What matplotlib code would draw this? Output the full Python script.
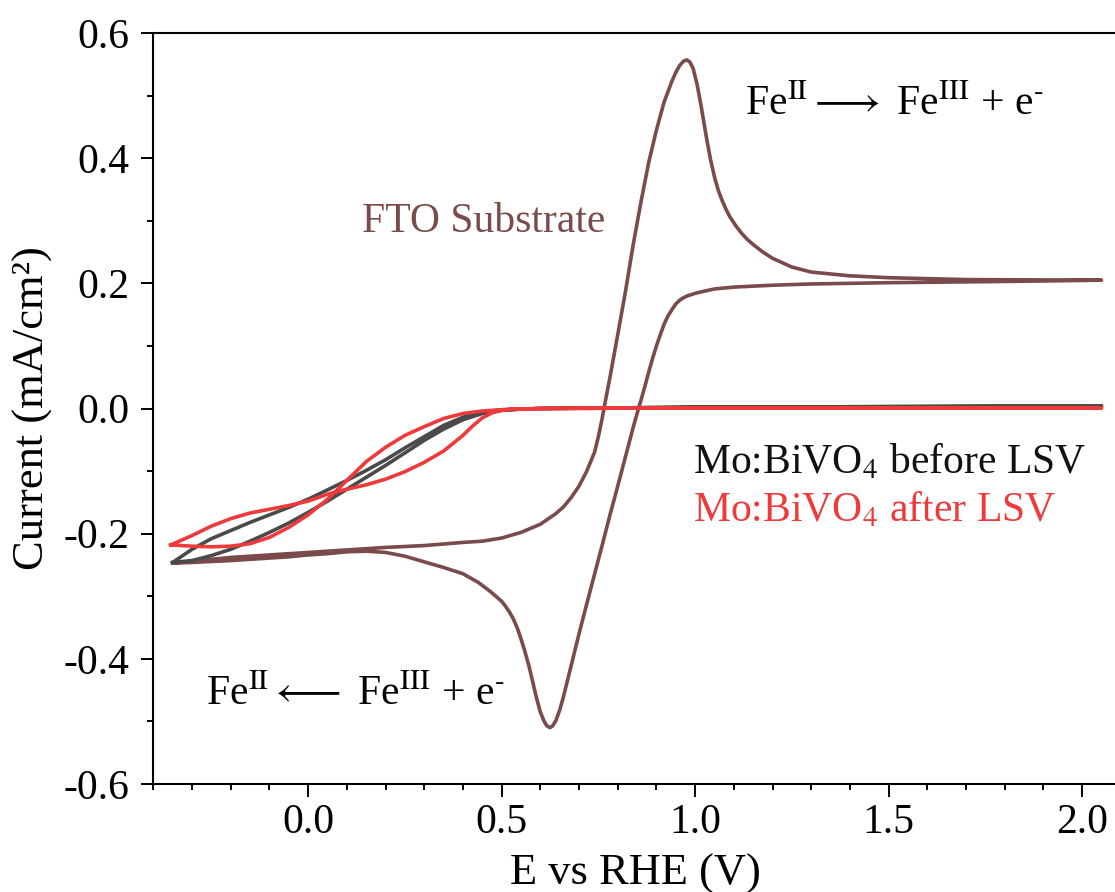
import numpy as np
import matplotlib
matplotlib.use('Agg')
from matplotlib import pyplot as plt
from matplotlib.ticker import MultipleLocator, FormatStrFormatter

plt.rcParams['font.family'] = ['Liberation Serif', 'DejaVu Serif']
plt.rcParams['mathtext.fontset'] = 'stix'
plt.rcParams['axes.unicode_minus'] = False

# FTO substrate CV, forward (anodic) sweep
fto_fwd_E = [-0.35, -0.30, -0.20, -0.10, 0.00, 0.10, 0.20, 0.30, 0.40, 0.45, 0.50, 0.55,
             0.60, 0.64, 0.66, 0.68, 0.70, 0.72, 0.74, 0.75, 0.76, 0.77, 0.78, 0.80, 0.82,
             0.84, 0.86, 0.88, 0.90, 0.92, 0.94, 0.95, 0.96, 0.97, 0.978, 0.986, 0.995,
             1.005, 1.015, 1.03, 1.04, 1.05, 1.06, 1.07, 1.08, 1.09, 1.105, 1.12, 1.135,
             1.15, 1.175, 1.20, 1.25, 1.30, 1.40, 1.50, 1.70, 2.05]
fto_fwd_I = [-0.247, -0.244, -0.238, -0.234, -0.230, -0.226, -0.222, -0.219, -0.214, -0.212,
             -0.207, -0.198, -0.185, -0.168, -0.157, -0.142, -0.124, -0.100, -0.070, -0.045,
             -0.015, 0.018, 0.050, 0.118, 0.187, 0.262, 0.330, 0.393, 0.445, 0.490, 0.523,
             0.537, 0.548, 0.555, 0.557, 0.554, 0.543, 0.518, 0.485, 0.430, 0.397, 0.370,
             0.348, 0.332, 0.318, 0.306, 0.292, 0.280, 0.270, 0.262, 0.250, 0.240, 0.226,
             0.218, 0.212, 0.209, 0.206, 0.205]

# FTO substrate CV, reverse (cathodic) sweep
fto_rev_E = [2.05, 1.80, 1.50, 1.30, 1.20, 1.10, 1.05, 1.02, 1.00, 0.98, 0.97, 0.96, 0.95,
             0.94, 0.93, 0.92, 0.91, 0.90, 0.89, 0.88, 0.87, 0.86, 0.85, 0.84, 0.82, 0.80,
             0.78, 0.76, 0.74, 0.72, 0.70, 0.68, 0.67, 0.66, 0.65, 0.64, 0.632, 0.625,
             0.617, 0.61, 0.60, 0.59, 0.58, 0.57, 0.56, 0.55, 0.54, 0.53, 0.52, 0.51, 0.50,
             0.47, 0.44, 0.40, 0.35, 0.30, 0.25, 0.20, 0.15, 0.10, 0.05, 0.00, -0.05, -0.10,
             -0.20, -0.30, -0.35]
fto_rev_I = [0.205, 0.203, 0.201, 0.199, 0.197, 0.194, 0.191, 0.187, 0.184, 0.180, 0.177,
             0.173, 0.167, 0.158, 0.148, 0.135, 0.118, 0.100, 0.080, 0.058, 0.035, 0.013,
             -0.008, -0.030, -0.077, -0.124, -0.170, -0.218, -0.265, -0.312, -0.360, -0.410,
             -0.435, -0.460, -0.482, -0.499, -0.507, -0.510, -0.507, -0.500, -0.485, -0.462,
             -0.436, -0.410, -0.388, -0.368, -0.350, -0.336, -0.325, -0.316, -0.308, -0.292,
             -0.278, -0.264, -0.254, -0.245, -0.236, -0.230, -0.228, -0.229, -0.232, -0.234,
             -0.237, -0.239, -0.243, -0.246, -0.247]

# Mo:BiVO4 before LSV
grey_fwd_E = [-0.35, -0.30, -0.25, -0.20, -0.15, -0.10, -0.05, 0.00, 0.05, 0.10, 0.15, 0.20,
              0.25, 0.30, 0.35, 0.40, 0.45, 0.475, 0.50, 0.55, 0.60, 1.00, 1.50, 2.05]
grey_fwd_I = [-0.246, -0.243, -0.235, -0.225, -0.212, -0.198, -0.183, -0.166, -0.148, -0.129,
              -0.110, -0.091, -0.071, -0.051, -0.033, -0.018, -0.008, -0.005, -0.003, -0.001,
              0.000, 0.002, 0.003, 0.004]
grey_rev_E = [2.05, 1.50, 1.00, 0.60, 0.55, 0.50, 0.475, 0.45, 0.425, 0.40, 0.35, 0.30, 0.25,
              0.20, 0.15, 0.10, 0.05, 0.00, -0.05, -0.10, -0.15, -0.20, -0.25, -0.30, -0.35]
grey_rev_I = [0.004, 0.003, 0.002, 0.000, -0.001, -0.002, -0.004, -0.006, -0.009, -0.014,
              -0.027, -0.045, -0.063, -0.082, -0.099, -0.115, -0.130, -0.145, -0.158, -0.170,
              -0.182, -0.195, -0.208, -0.225, -0.246]

# Mo:BiVO4 after LSV
red_fwd_E = [-0.355, -0.30, -0.25, -0.20, -0.15, -0.10, -0.05, 0.00, 0.05, 0.10, 0.15, 0.20,
             0.25, 0.30, 0.35, 0.40, 0.45, 0.50, 0.55, 0.60, 1.00, 2.05]
red_fwd_I = [-0.218, -0.220, -0.221, -0.220, -0.216, -0.206, -0.190, -0.170, -0.145, -0.115,
             -0.085, -0.062, -0.043, -0.029, -0.016, -0.008, -0.004, -0.002, -0.001, 0.000,
             0.001, 0.001]
red_rev_E = [2.05, 1.00, 0.60, 0.55, 0.525, 0.50, 0.475, 0.45, 0.425, 0.40, 0.35, 0.30, 0.25,
             0.20, 0.15, 0.10, 0.05, 0.00, -0.05, -0.10, -0.15, -0.20, -0.25, -0.30, -0.355]
red_rev_I = [0.001, 0.001, 0.000, -0.001, -0.001, -0.003, -0.007, -0.015, -0.028, -0.043,
             -0.068, -0.086, -0.101, -0.113, -0.122, -0.129, -0.137, -0.148, -0.155, -0.161,
             -0.167, -0.176, -0.188, -0.203, -0.218]

brown = '#7B4B4B'
grey = '#4A4A4A'
red = '#EE3A3A'

fig = plt.figure(figsize=(11.15, 8.92), dpi=100)
ax = fig.add_axes([153.3 / 1115, 108 / 892, (1117 - 153.3) / 1115, 751 / 892])

ax.plot(fto_fwd_E + fto_rev_E, fto_fwd_I + fto_rev_I, color=brown, lw=2.6, solid_joinstyle='round')
ax.plot(grey_fwd_E + grey_rev_E, grey_fwd_I + grey_rev_I, color=grey, lw=2.6, solid_joinstyle='round')
ax.plot(red_fwd_E + red_rev_E, red_fwd_I + red_rev_I, color=red, lw=2.6, solid_joinstyle='round')

ax.set_xlim(-0.4, 2.09)
ax.set_ylim(-0.6, 0.6)
ax.xaxis.set_major_locator(MultipleLocator(0.5))
ax.xaxis.set_minor_locator(MultipleLocator(0.1))
ax.yaxis.set_major_locator(MultipleLocator(0.2))
ax.yaxis.set_minor_locator(MultipleLocator(0.1))
ax.xaxis.set_major_formatter(FormatStrFormatter('%.1f'))
ax.yaxis.set_major_formatter(FormatStrFormatter('%.1f'))
ax.tick_params(which='major', direction='out', length=9, width=1.4, labelsize=30, pad=5)
ax.tick_params(which='minor', direction='out', length=4.5, width=1.4)
ax.tick_params(axis='y', which='major', pad=8)
for s in ['left', 'bottom', 'top']:
    ax.spines[s].set_linewidth(1.5)
ax.spines['right'].set_visible(False)

ax.set_xlabel('E vs RHE (V)', fontsize=32)
ax.set_ylabel('Current (mA/cm\u00b2)', fontsize=32)
ax.xaxis.set_label_coords(0.5, -0.093)
ax.yaxis.set_label_coords(-0.104, 0.5)

ax.text(0.453, 0.282, 'FTO Substrate', color=brown, fontsize=30, ha='center', va='baseline')
ax.text(0.995, -0.103, r'Mo:BiVO$_4$ before LSV', color='#111111', fontsize=30, va='baseline')
ax.text(0.995, -0.181, r'Mo:BiVO$_4$ after LSV', color=red, fontsize=30, va='baseline')
ax.text(1.130, 0.469, r'Fe$^{\mathrm{II}}$$\longrightarrow$ Fe$^{\mathrm{III}}$ + e$^{\text{-}}$',
        fontsize=30, va='baseline')
ax.text(-0.265, -0.474, r'Fe$^{\mathrm{II}}$$\longleftarrow$ Fe$^{\mathrm{III}}$ + e$^{\text{-}}$',
        fontsize=30, va='baseline')

fig.savefig('out.png', dpi=100)
